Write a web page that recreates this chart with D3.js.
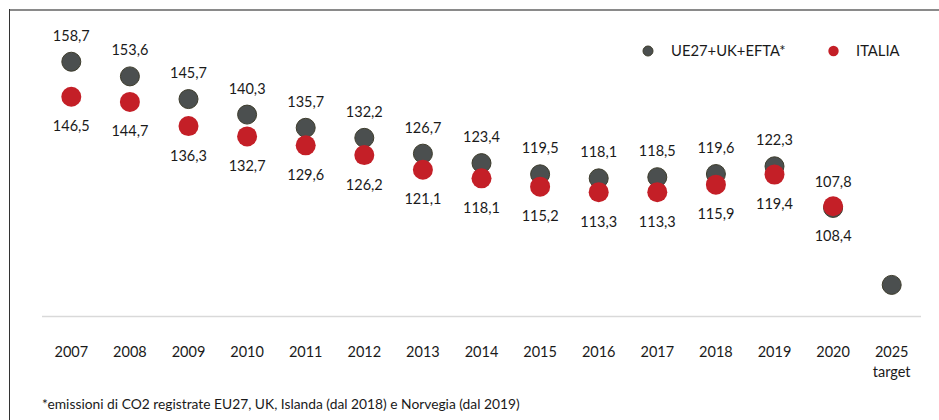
<!DOCTYPE html>
<html>
<head>
<meta charset="utf-8">
<script src="https://cdn.jsdelivr.net/npm/d3@7"></script>
<style>
  html, body { margin: 0; padding: 0; background: #fff; }
  svg text { font-family: Lato, "Noto Sans", sans-serif; fill: #1a1a1a; }
</style>
</head>
<body>
<svg id="chart" width="939" height="420"></svg>
<script>
const years = ["2007","2008","2009","2010","2011","2012","2013","2014","2015","2016","2017","2018","2019","2020","2025"];
const tickLabels = [["2007"],["2008"],["2009"],["2010"],["2011"],["2012"],["2013"],["2014"],["2015"],["2016"],["2017"],["2018"],["2019"],["2020"],["2025","target"]];
const euValues = [158.7,153.6,145.7,140.3,135.7,132.2,126.7,123.4,119.5,118.1,118.5,119.6,122.3,107.8,81.0];
const euLabeled = [true,true,true,true,true,true,true,true,true,true,true,true,true,true,false];
const itValues = [146.5,144.7,136.3,132.7,129.6,126.2,121.1,118.1,115.2,113.3,113.3,115.9,119.4,108.4,null];
const seriesNames = ["UE27+UK+EFTA*","ITALIA"];
const footnote = "*emissioni di CO2 registrate EU27, UK, Islanda (dal 2018) e Norvegia (dal 2019)";

const fmt = v => d3.format(".1f")(v).replace(".", ",");
const svg = d3.select("#chart");
const grayFill = "#4b4f4f", grayStroke = "#3d3c2c", red = "#c41f27";

// frame
svg.append("line").attr("x1", 9).attr("x2", 939).attr("y1", 10).attr("y2", 10)
  .attr("stroke", "#8a8a8a").attr("stroke-width", 2);
svg.append("line").attr("x1", 9.5).attr("x2", 9.5).attr("y1", 9).attr("y2", 420)
  .attr("stroke", "#333").attr("stroke-width", 1);

const x = d3.scaleBand().domain(years).range([42, 921]);
const y = d3.scaleLinear().domain([70, 160]).range([316.5, 58]);

// baseline
svg.append("line").attr("x1", 42).attr("x2", 921).attr("y1", y(70)).attr("y2", y(70))
  .attr("stroke", "#d9d9d9").attr("stroke-width", 1.5);

// x axis labels
const axis = d3.axisBottom(x).tickSize(0).tickFormat("");
const ag = svg.append("g").attr("transform", `translate(0,${y(70)})`).call(axis);
ag.select(".domain").remove();
ag.selectAll(".tick").each(function(d, i) {
  const t = d3.select(this).append("text").attr("text-anchor", "middle")
    .attr("font-size", 14.5).attr("fill", "#1a1a1a");
  tickLabels[i].forEach((s, j) => {
    t.append("tspan").attr("x", 0).attr("y", 40 + j * 20).text(s);
  });
});

const cx = d => x(d) + x.bandwidth() / 2;

// EU series
const euData = years.map((yr, i) => ({yr, v: euValues[i], lab: euLabeled[i]}));
svg.append("g").selectAll("circle").data(euData).join("circle")
  .attr("cx", d => cx(d.yr)).attr("cy", d => y(d.v)).attr("r", 9.5)
  .attr("fill", grayFill).attr("stroke", grayStroke).attr("stroke-width", 1);

// IT series
const itData = years.map((yr, i) => ({yr, v: itValues[i]})).filter(d => d.v != null);
svg.append("g").selectAll("circle").data(itData).join("circle")
  .attr("cx", d => cx(d.yr)).attr("cy", d => y(d.v)).attr("r", 10)
  .attr("fill", red);

// labels
svg.append("g").selectAll("text").data(euData.filter(d => d.lab)).join("text")
  .attr("x", d => cx(d.yr)).attr("y", d => y(d.v) - 21)
  .attr("text-anchor", "middle").attr("font-size", 14.5).text(d => fmt(d.v));
svg.append("g").selectAll("text").data(itData).join("text")
  .attr("x", d => cx(d.yr)).attr("y", d => y(d.v) + 34.5)
  .attr("text-anchor", "middle").attr("font-size", 14.5).text(d => fmt(d.v));

// legend
const lg = svg.append("g");
lg.append("circle").attr("cx", 648).attr("cy", 51).attr("r", 5)
  .attr("fill", grayFill).attr("stroke", grayStroke).attr("stroke-width", 1);
lg.append("text").attr("x", 671).attr("y", 56).attr("font-size", 14.8).text(seriesNames[0]);
lg.append("circle").attr("cx", 833.5).attr("cy", 51).attr("r", 5.2).attr("fill", red);
lg.append("text").attr("x", 856).attr("y", 56).attr("font-size", 14.8).text(seriesNames[1]);

// footnote
svg.append("text").attr("x", 42).attr("y", 409).attr("font-size", 13.8).text(footnote);
</script>
</body>
</html>
